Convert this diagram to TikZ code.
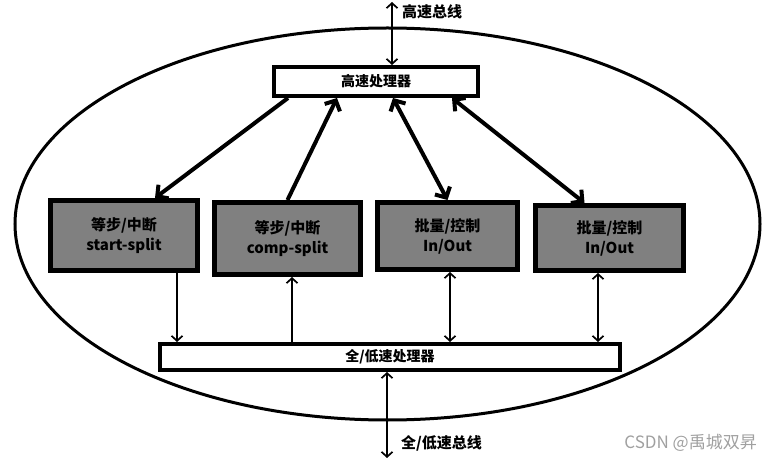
\documentclass[tikz,border=0pt]{standalone}
\usepackage{fontspec}
\usepackage{xcolor}
\usepackage{tikz}
\usetikzlibrary{arrows.meta,positioning,calc}

\newfontfamily\cjk{Noto Sans CJK SC}
\definecolor{boxgray}{RGB}{128,128,128}
\definecolor{markgray}{RGB}{160,160,160}

\tikzset{
    proc/.style={draw, line width=4pt, fill=white, inner sep=0pt, font=\cjk\bfseries\fontsize{14}{17}\selectfont},
    chan/.style={draw, line width=5pt, fill=boxgray, inner sep=0pt, align=center, font=\cjk\bfseries\fontsize{15}{20}\selectfont},
    thinlink/.style={line width=1.7pt, >={Straight Barb[length=5pt,width=11pt]}},
    thicklink/.style={line width=4pt, >={Straight Barb[length=8pt,width=17pt]}},
    buslabel/.style={anchor=west, inner sep=0pt, font=\cjk\bfseries\fontsize{15}{17}\selectfont}
}

\begin{document}
\begin{tikzpicture}[x=1pt,y=-1pt]
    \useasboundingbox (0,0) rectangle (768,462);

    % Outer ellipse
    \draw[line width=3pt] (387.5,224) ellipse [x radius=372.5, y radius=196];

    % Processors
    \node[proc, minimum width=204pt, minimum height=29pt] (high) at (376,81.5) {高速处理器};
    \node[proc, minimum width=460pt, minimum height=26pt] (low) at (390,357) {全/低速处理器};

    % Channels
    \node[chan, minimum width=147pt, minimum height=70pt] (ch1) at (124,235.5) {等步/中断\\start-split};
    \node[chan, minimum width=146pt, minimum height=72pt] (ch2) at (287.5,238.5) {等步/中断\\comp-split};
    \node[chan, minimum width=140pt, minimum height=67pt] (ch3) at (447.5,236) {批量/控制\\In/Out};
    \node[chan, minimum width=148pt, minimum height=65pt] (ch4) at (609.5,238) {批量/控制\\In/Out};

    % High speed processor to channels
    \draw[thicklink, ->] ([xshift=-88pt]high.south) -- ([xshift=31pt]ch1.north);
    \draw[thicklink, ->] (ch2.north) -- ([xshift=-39pt]high.south);
    \draw[thicklink, <->] ([xshift=17pt]high.south) -- (ch3.north);
    \draw[thicklink, <->] ([xshift=76pt]high.south) -- ([xshift=-25pt]ch4.north);

    % Channels to full/low speed processor
    \coordinate (v1) at (177,0);
    \coordinate (v2) at (292,0);
    \coordinate (v3) at (450,0);
    \coordinate (v4) at (598,0);
    \draw[thinlink, ->] (v1 |- ch1.south) -- (v1 |- low.north);
    \draw[thinlink, ->] (v2 |- low.north) -- (v2 |- ch2.south);
    \draw[thinlink, <->] (v3 |- ch3.south) -- (v3 |- low.north);
    \draw[thinlink, <->] (v4 |- ch4.south) -- (v4 |- low.north);

    % Buses
    \coordinate (hbus) at (392,2);
    \coordinate (lbus) at (387,458);
    \draw[thinlink, <->] (hbus) -- (hbus |- high.north);
    \draw[thinlink, <->] (low.south -| lbus) -- (lbus);
    \node[buslabel] (hbuslabel) at (402,12) {高速总线};
    \node[buslabel] (lbuslabel) at (401,443) {全/低速总线};

    % Watermark
    \node[anchor=east, inner sep=0pt, text=markgray, font=\cjk\fontsize{17}{19}\selectfont] (mark) at (757,443) {CSDN @禹城双昇};
\end{tikzpicture}
\end{document}
